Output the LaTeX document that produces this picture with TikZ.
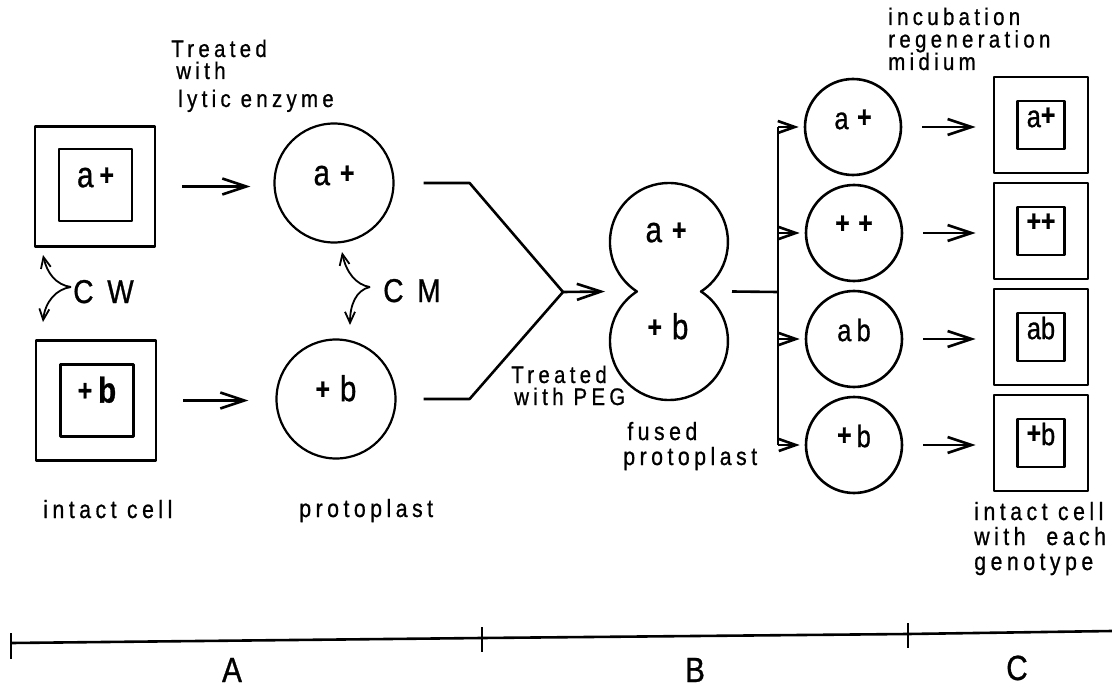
\documentclass[tikz,border=0pt]{standalone}
\usepackage{fontspec}
\setmainfont{Liberation Sans}[FakeStretch=0.85,LetterSpace=18,FakeBold=0.8]
\newfontfamily\genofont{Liberation Sans}[FakeStretch=0.82,FakeBold=0.8]
\usetikzlibrary{arrows.meta}
\newcommand\gplus{\raisebox{2pt}{\fontsize{30pt}{30pt}\selectfont\bfseries +}}
\tikzset{
  txt/.style={anchor=base west, inner sep=0pt, align=left},
  big/.style={anchor=base west, inner sep=0pt, font=\fontsize{33pt}{35pt}\selectfont},
  lettr/.style={inner sep=0pt, font=\fontsize{35pt}{37pt}\selectfont},
  geno/.style={inner sep=0pt, text height=0.8ex, text depth=0pt, font=\genofont\fontsize{36pt}{38pt}\selectfont},
  genos/.style={inner sep=0pt, text height=0.8ex, text depth=0pt, font=\genofont\fontsize{31pt}{33pt}\selectfont},
  wallbig/.style={draw, rectangle, minimum size=120pt},
  cellbig/.style={draw, rectangle, minimum width=73pt, minimum height=72pt, geno},
  protbig/.style={draw, circle, minimum size=119pt, geno},
  protsm/.style={draw, circle, minimum size=96pt, genos},
  wallsm/.style={draw, rectangle, minimum width=94pt, minimum height=96pt},
  cellsm/.style={draw, rectangle, minimum width=47pt, minimum height=48pt, genos},
  arr/.style={-{Straight Barb[length=24pt,width=16pt]}},
  arrsm/.style={-{Straight Barb[length=17pt,width=12pt]}},
  arrcurl/.style={-{Straight Barb[length=11pt,width=10pt]}},
}
\begin{document}
\begin{tikzpicture}[x=1pt, y=-1pt, line width=2.6pt, line join=round]
\useasboundingbox (0,0) rectangle (1112,690);

% ---- stage A: intact cells and protoplasts
\node[wallbig] (sqA) at (95,186.5) {};
\node[cellbig] (sqAin) at (95.5,185) {a\,\gplus};
\node[wallbig] (sqB) at (96,400.5) {};
\node[cellbig] (sqBin) at (97,400.5) {\bfseries\gplus\,b};

\node[protbig, line width=2.2pt] (cA) at (334,183) {a\;\gplus};
\node[protbig, line width=2.2pt] (cB) at (336,399) {\gplus\;b};

\draw[arr, shorten <=26pt, shorten >=23pt] (sqA.east) -- (sqA.east -| cA.west);
\draw[arr, shorten <=26pt, shorten >=27pt] (sqB.east) -- (sqB.east -| cB.west);

% multi-line labels are placed by the baseline of their last line
\node[txt, font=\fontsize{24pt}{22pt}\selectfont] (lytic) at (170,107)
  {Treated\\\hspace*{5pt}with\\[6pt]\hspace*{7pt}lytic enzyme};

% cell wall / cell membrane pointers
\node[big] (cw) at (72,303) {C W};
\node[big] (cm) at (382,302) {C M};
\coordinate (cwJ) at (71,287);
\coordinate (cwT) at (43,255);
\coordinate (cwB) at (43,322);
\coordinate (cmJ) at (370,287);
\coordinate (cmT) at (342,252);
\coordinate (cmB) at (350,325);
\draw[arrcurl, line width=1.8pt] (cwJ) .. controls (56,285) and (47,273) .. (cwT);
\draw[arrcurl, line width=1.8pt] (cwJ) .. controls (56,289) and (45,302) .. (cwB);
\draw[arrcurl, line width=1.8pt] (cmJ) .. controls (356,285) and (346,272) .. (cmT);
\draw[arrcurl, line width=1.8pt] (cmJ) .. controls (356,290) and (350,305) .. (cmB);

\node[txt, font=\fontsize{25pt}{25pt}\selectfont] (ic) at (42,518) {intact cell};
\node[txt, font=\fontsize{25pt}{25pt}\selectfont] (pp) at (298,517) {protoplast};

% ---- stage B: fusion
\coordinate (fuseTip) at (563,292);
\coordinate (fuseL) at (637,291.5);
\coordinate (fuseR) at (701,291.5);
\draw ([xshift=29pt]cA.east) -- ++(46,0) -- (fuseTip);
\draw ([xshift=27pt]cB.east) -- ++(46,0) -- (fuseTip);
\draw[arr] (fuseTip) -- ([xshift=-32pt]fuseL);

\draw[line width=2.4pt] (fuseR) arc[start angle=57.1, end angle=-237.1, radius=59]
      arc[start angle=237.1, end angle=-57.1, radius=59] -- cycle;
\node[geno] (fA) at (666,240) {a\;\gplus};
\node[geno] (fB) at (668,337) {\gplus\;b};

\node[txt, font=\fontsize{24pt}{22pt}\selectfont] (peg) at (510,405)
  {Treated\\\hspace*{3pt}with PEG};
\node[txt, font=\fontsize{25pt}{25pt}\selectfont] (fused) at (622,465)
  {\hspace*{4pt}fused\\protoplast};

% ---- stage C: regeneration
\node[protsm] (r1) at (853,127) {a\;\gplus};
\node[protsm] (r2) at (854,233) {\gplus\;\gplus};
\node[protsm] (r3) at (854,339) {a\,b};
\node[protsm] (r4) at (854,445) {\gplus\,b};

\coordinate (bus) at (778,292);
\draw ([xshift=31pt]fuseR) -- (bus);
\draw (r1.west -| bus) -- (r4.west -| bus);
\foreach \r in {r1,r2,r3,r4}
  \draw[arrsm, shorten >=5pt] (\r.west -| bus) -- (\r.west);

\foreach \r/\y/\t in {1/125/{a\gplus},2/231/{\gplus\gplus},3/337/{ab},4/443/{\gplus b}}{
  \node[wallsm] (b\r) at (1041,\y) {};
  \node[cellsm, line width=2.2pt] (b\r in) at (1041,\y) {\t};
  \draw[arr, shorten <=20pt, shorten >=17pt] (r\r.east) -- (r\r.east -| b\r.west);
}

\node[txt, font=\fontsize{24pt}{22.5pt}\selectfont] (medium) at (887,70)
  {incubation\\regeneration\\midium};
\node[txt, font=\fontsize{25pt}{25pt}\selectfont] (result) at (973,570)
  {intact cell\\with \ each\\genotype};

% ---- stage bar
\coordinate (s0) at (11,643);
\coordinate (s1) at (482,638);
\coordinate (s2) at (908,634);
\coordinate (s3) at (1112,631);
\draw (s0) -- (s1) -- (s2) -- (s3);
\draw (s0) ++(0,-10) -- ++(0,26);
\draw (s1) ++(0,-11) -- ++(0,25);
\draw (s2) ++(0,-11) -- ++(0,25);
\node[lettr, anchor=base] (lA) at (232,682) {A};
\node[lettr, anchor=base] (lB) at (695,682) {B};
\node[lettr, anchor=base] (lC) at (1017,680) {C};
\end{tikzpicture}
\end{document}
